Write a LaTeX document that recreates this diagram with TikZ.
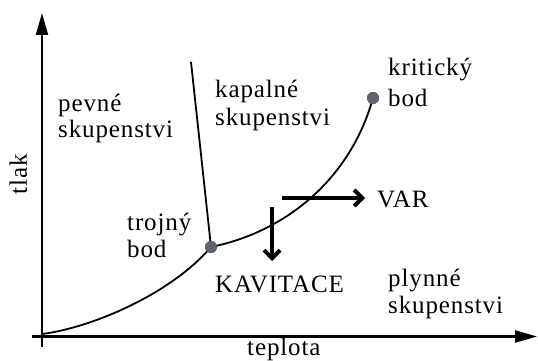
\documentclass[tikz,border=0pt]{standalone}
\usepackage{fontspec}
\setmainfont{Liberation Serif}[LetterSpace=3.5]
\usetikzlibrary{arrows.meta}
\begin{document}
\begin{tikzpicture}[x=1pt,y=-1pt,
  lbl/.style={anchor=base west,inner sep=0pt,font=\fontsize{25}{27}\selectfont},
  axis/.style={line width=2.2pt,-{Triangle[length=22pt,width=12pt]}},
  phaseline/.style={line width=1.8pt},
  bigarrow/.style={line width=4pt,-{Straight Barb[length=8pt,width=16pt]}},
  pt/.style={circle,fill=ptgray,inner sep=0pt,minimum size=12pt}]
\definecolor{ptgray}{RGB}{95,99,106}
\useasboundingbox (0,0) rectangle (538,361);
% axes
\coordinate (ybot) at (42,347);
\coordinate (ytop) at (42,13);
\coordinate (xleft) at (32,336.5);
\coordinate (xright) at (537,336.5);
\draw[axis] (ybot) -- (ytop);
\draw[axis] (xleft) -- (xright);
% phase boundaries
\coordinate (O) at (42,334);
\coordinate (melttop) at (191,62);
\node[pt] (TP) at (211,247) {};
\node[pt] (CP) at (373,98) {};
\draw[phaseline] (O) .. controls (90,328) and (170,295) .. (TP.center);
\draw[phaseline] (TP.center) .. controls (285,232) and (350,180) .. (CP.center);
\draw[phaseline] (melttop) -- (TP.center);
\node[pt] at (TP) {};
\node[pt] at (CP) {};
% big arrows
\coordinate (h1) at (282,198);
\coordinate (h2) at (365,198);
\coordinate (v1) at (272,207);
\coordinate (v2) at (272,261);
\draw[bigarrow] (h1) -- (h2);
\draw[bigarrow] (v1) -- (v2);
% labels
\node[lbl] (pevne1) at (58,111) {pevné};
\node[lbl] (pevne2) at (58,137) {skupenstvi};
\node[lbl] (kap1) at (215,97) {kapalné};
\node[lbl] (kap2) at (215,125) {skupenstvi};
\node[lbl] (krit1) at (388,76) {kritický};
\node[lbl] (krit2) at (388,106) {bod};
\node[lbl] (troj1) at (127,230) {trojný};
\node[lbl] (troj2) at (127,257) {bod};
\node[lbl] (var) at (377,207) {VAR};
\node[lbl] (kav) at (215,292) {KAVITACE};
\node[lbl] (plyn1) at (388,286) {plynné};
\node[lbl] (plyn2) at (388,313) {skupenstvi};
\node[lbl] (tepl) at (247,355) {teplota};
\node[inner sep=0pt,anchor=base,rotate=90,font=\fontsize{25}{27}\selectfont] (tlak) at (27,174) {tlak};
\end{tikzpicture}
\end{document}
